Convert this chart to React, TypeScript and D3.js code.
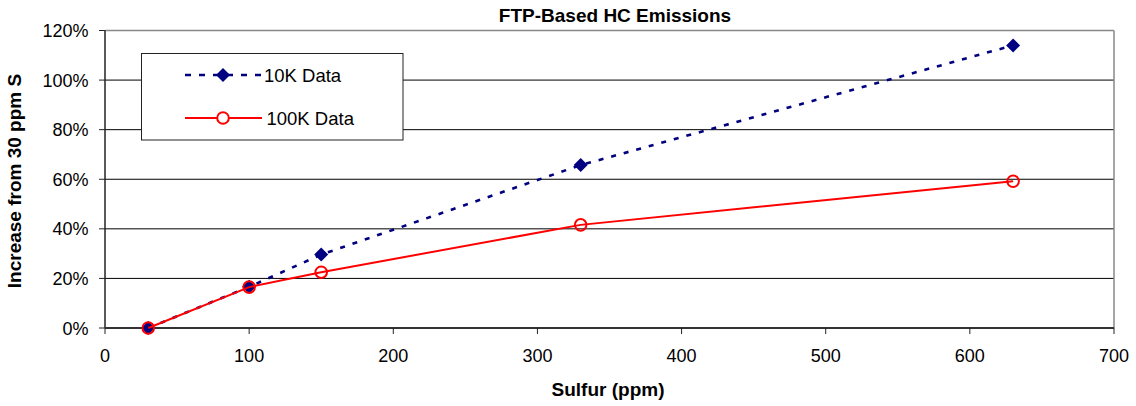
import React from "react";
import * as d3 from "d3";

const sulfur10K = [30, 100, 150, 330, 630];
const values10K = [0, 16.6, 29.6, 65.7, 114.0];
const sulfur100K = [30, 100, 150, 330, 630];
const values100K = [0, 16.5, 22.5, 41.6, 59.2];
const xTicks = [0, 100, 200, 300, 400, 500, 600, 700];
const yTicks = [0, 20, 40, 60, 80, 100, 120];

const W = 1136;
const H = 406;
const M = { left: 105, right: 1114, top: 30.5, bottom: 328 };
const FONT = "Arial, 'Liberation Sans', sans-serif";

export default function App() {
  const x = d3.scaleLinear().domain([0, 700]).range([M.left, M.right]);
  const y = d3.scaleLinear().domain([0, 120]).range([M.bottom, M.top]);
  const pts10 = sulfur10K.map((s, i) => [x(s), y(values10K[i])] as [number, number]);
  const pts100 = sulfur100K.map((s, i) => [x(s), y(values100K[i])] as [number, number]);
  const line = d3.line();
  const diamond = (cx: number, cy: number, r = 7) =>
    `M${cx},${cy - r}L${cx + r},${cy}L${cx},${cy + r}L${cx - r},${cy}Z`;

  const lgX = 141.5, lgY = 53.5, lgW = 261.5, lgH = 86.5;

  return (
    <svg width={W} height={H} style={{ position: "absolute", left: 0, top: 0, background: "#fff" }} fontFamily={FONT}>
      <rect x={0} y={0} width={W} height={H} fill="#fff" />
      <text x={615} y={21.5} textAnchor="middle" fontSize={19} fontWeight="bold">FTP-Based HC Emissions</text>
      {/* gridlines */}
      {yTicks.filter((t) => t > 0 && t < 120).map((t) => (
        <line key={t} x1={M.left} x2={M.right} y1={y(t)} y2={y(t)} stroke="#000" strokeWidth={1} />
      ))}
      {/* plot border */}
      <line x1={M.left} x2={M.right} y1={M.top} y2={M.top} stroke="#888" strokeWidth={1.5} />
      <line x1={M.right} x2={M.right} y1={M.top} y2={M.bottom} stroke="#888" strokeWidth={1.5} />
      {/* axes */}
      <line x1={M.left} x2={M.left} y1={M.top} y2={M.bottom} stroke="#222" strokeWidth={1.5} />
      <line x1={M.left} x2={M.right} y1={M.bottom} y2={M.bottom} stroke="#333" strokeWidth={2} />
      {yTicks.map((t) => (
        <g key={t}>
          <line x1={M.left - 6} x2={M.left} y1={y(t)} y2={y(t)} stroke="#222" strokeWidth={1} />
          <text x={88.5} y={y(t) + 6.5} textAnchor="end" fontSize={18}>{t}%</text>
        </g>
      ))}
      {xTicks.map((t) => (
        <g key={t}>
          <line x1={x(t)} x2={x(t)} y1={M.bottom} y2={M.bottom + 6} stroke="#222" strokeWidth={1} />
          <text x={x(t)} y={M.bottom + 34} textAnchor="middle" fontSize={18}>{t}</text>
        </g>
      ))}
      <text x={608} y={395.5} textAnchor="middle" fontSize={19} fontWeight="bold">Sulfur (ppm)</text>
      <text transform={`translate(21,181) rotate(-90)`} textAnchor="middle" fontSize={19} fontWeight="bold">Increase from 30 ppm S</text>

      {/* 10K series */}
      <path d={line(pts10) || ""} fill="none" stroke="#000080" strokeWidth={2.6} strokeDasharray="5,8" />
      {pts10.map(([cx, cy], i) => (
        <path key={i} d={diamond(cx, cy)} fill="#000080" />
      ))}
      {/* 100K series */}
      <path d={line(pts100) || ""} fill="none" stroke="#ff0000" strokeWidth={2} />
      {pts100.map(([cx, cy], i) => (
        <circle key={i} cx={cx} cy={cy} r={5.8} fill="none" stroke="#ff0000" strokeWidth={2} />
      ))}

      {/* legend */}
      <rect x={lgX} y={lgY} width={lgW} height={lgH} fill="#fff" stroke="#222" strokeWidth={1} />
      <line x1={185} x2={262} y1={75} y2={75} stroke="#000080" strokeWidth={2.6} strokeDasharray="6,8" />
      <path d={diamond(223, 75)} fill="#000080" />
      <text x={264} y={81.5} fontSize={18.5}>10K Data</text>
      <line x1={185} x2={262} y1={118} y2={118} stroke="#ff0000" strokeWidth={2} />
      <circle cx={223} cy={118} r={5.8} fill="#fff" stroke="#ff0000" strokeWidth={2} />
      <text x={266.5} y={124.5} fontSize={18.5}>100K Data</text>
    </svg>
  );
}
